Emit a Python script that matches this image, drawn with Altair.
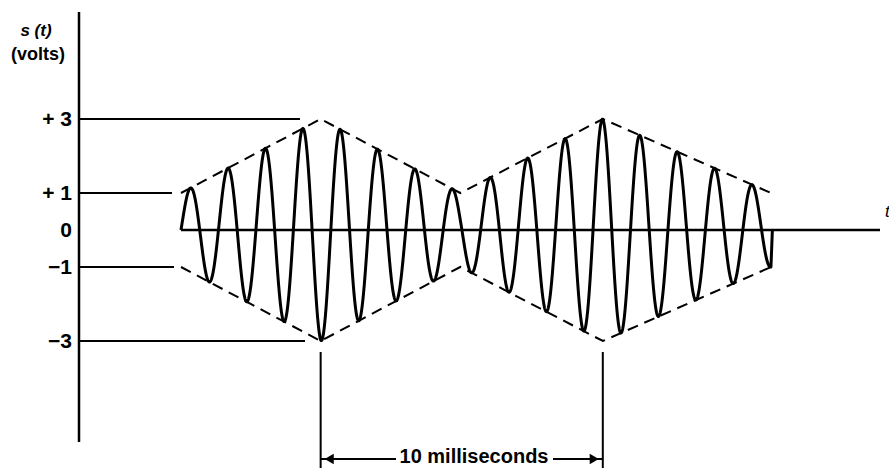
import altair as alt
import numpy as np
import pandas as pd

# Triangular envelope of the AM signal (time in ms, amplitude in volts)
env_t = [0.0, 4.9, 9.8, 14.8, 20.7]
env_a = [1.0, 3.0, 1.0, 3.0, 1.0]
# Carrier: the burst ends on the trough of its 16th cycle
carrier_cycles = 15.75

# Voltage levels marked on the vertical axis
levels = [3, 1, 0, -1, -3]
level_labels = ["+ 3", "+ 1", "0", "\u22121", "\u22123"]
# Envelope peaks spanned by the period annotation
span_ms = [4.9, 14.8]
span_label = "10 milliseconds"

# ---- layout (pixel frame: 889 x 470) ----
W, H = 889, 470
PX_PER_MS = 28.5
PX_PER_V = 37.0
X_ORIGIN = 181.0   # pixel x of t = 0
Y_ORIGIN = 230.0   # pixel y of s = 0
X_DOM = [-X_ORIGIN / PX_PER_MS, (W - X_ORIGIN) / PX_PER_MS]
Y_DOM = [-(H - Y_ORIGIN) / PX_PER_V, Y_ORIGIN / PX_PER_V]


def tx(px):
    return (px - X_ORIGIN) / PX_PER_MS


def vy(py):
    return (Y_ORIGIN - py) / PX_PER_V


xs = alt.Scale(domain=X_DOM, nice=False, zero=False)
ys = alt.Scale(domain=Y_DOM, nice=False, zero=False)
FONT = "Liberation Sans"

# Modulated waveform s(t) = a(t) sin(2 pi t / T)
t_end = env_t[-1]
period = t_end / carrier_cycles
t = np.linspace(0.0, t_end, 3000)
a = np.interp(t, env_t, env_a)
s = a * np.sin(2 * np.pi * t / period)
wave = pd.DataFrame({"t": np.append(t, t_end + 0.05), "s": np.append(s, 0.0)})

wave_line = alt.Chart(wave).mark_line(color="black", strokeWidth=3, strokeJoin="round").encode(
    x=alt.X("t:Q", scale=xs, axis=None),
    y=alt.Y("s:Q", scale=ys, axis=None),
    order="t:Q",
)

env_df = pd.DataFrame(
    {"t": env_t * 2, "s": env_a + [-v for v in env_a], "side": ["upper"] * 5 + ["lower"] * 5}
)
env_lines = alt.Chart(env_df).mark_line(
    color="black", strokeWidth=2, strokeDash=[11, 7]
).encode(
    x=alt.X("t:Q", scale=xs, axis=None),
    y=alt.Y("s:Q", scale=ys, axis=None),
    detail="side:N",
)

# Vertical axis and time axis
axis_x = tx(79)
axes_df = pd.DataFrame(
    {
        "x": [axis_x, 0.0],
        "x2": [axis_x, tx(880)],
        "y": [vy(12), 0.0],
        "y2": [vy(442), 0.0],
    }
)
axes = alt.Chart(axes_df).mark_rule(color="black", strokeWidth=2.5).encode(
    x=alt.X("x:Q", scale=xs, axis=None), x2="x2:Q",
    y=alt.Y("y:Q", scale=ys, axis=None), y2="y2:Q",
)

# Level lines running from the axis toward the envelope
lvl_end = {3: tx(300), 1: tx(172), -1: tx(174), -3: tx(305)}
lvl_df = pd.DataFrame(
    {"y": [v for v in levels if v != 0], "x": axis_x,
     "x2": [lvl_end[v] for v in levels if v != 0]}
)
lvl_lines = alt.Chart(lvl_df).mark_rule(color="black", strokeWidth=2).encode(
    x=alt.X("x:Q", scale=xs, axis=None), x2="x2:Q",
    y=alt.Y("y:Q", scale=ys, axis=None),
)

lbl_df = pd.DataFrame({"y": levels, "label": level_labels, "x": tx(72)})
lvl_text = alt.Chart(lbl_df).mark_text(
    align="right", baseline="middle", font=FONT, fontSize=21, fontWeight="bold", color="black",
    dy=1
).encode(
    x=alt.X("x:Q", scale=xs, axis=None),
    y=alt.Y("y:Q", scale=ys, axis=None),
    text="label:N",
)

# Axis titles
ylab1 = alt.Chart(pd.DataFrame({"x": [tx(36)], "y": [vy(31)], "label": ["s (t)"]})).mark_text(
    align="center", baseline="middle", font=FONT, fontSize=17, fontWeight="bold",
    fontStyle="italic", color="black"
).encode(x=alt.X("x:Q", scale=xs, axis=None), y=alt.Y("y:Q", scale=ys, axis=None), text="label:N")
ylab2 = alt.Chart(pd.DataFrame({"x": [tx(38)], "y": [vy(55)], "label": ["(volts)"]})).mark_text(
    align="center", baseline="middle", font=FONT, fontSize=18, fontWeight="bold", color="black"
).encode(x=alt.X("x:Q", scale=xs, axis=None), y=alt.Y("y:Q", scale=ys, axis=None), text="label:N")
tlab = alt.Chart(pd.DataFrame({"x": [tx(885)], "y": [vy(212)], "label": ["t"]})).mark_text(
    align="left", baseline="middle", font=FONT, fontSize=17, fontStyle="italic", color="black"
).encode(x=alt.X("x:Q", scale=xs, axis=None), y=alt.Y("y:Q", scale=ys, axis=None), text="label:N")

# Period annotation: drop lines, double arrow and label
arrow_y = vy(459)
label_x = tx(474)
drop_df = pd.DataFrame({"x": span_ms, "y": [vy(352), vy(352)], "y2": [vy(468), vy(468)]})
drops = alt.Chart(drop_df).mark_rule(color="black", strokeWidth=2).encode(
    x=alt.X("x:Q", scale=xs, axis=None),
    y=alt.Y("y:Q", scale=ys, axis=None), y2="y2:Q",
)
shaft_df = pd.DataFrame(
    {"x": [span_ms[0], tx(553)], "x2": [tx(396), span_ms[1]], "y": [arrow_y, arrow_y]}
)
shafts = alt.Chart(shaft_df).mark_rule(color="black", strokeWidth=2).encode(
    x=alt.X("x:Q", scale=xs, axis=None), x2="x2:Q",
    y=alt.Y("y:Q", scale=ys, axis=None),
)
head_df = pd.DataFrame(
    {"x": [span_ms[0] + 0.3, span_ms[1] - 0.3], "y": [arrow_y, arrow_y],
     "shape": ["triangle-left", "triangle-right"]}
)
heads = alt.Chart(head_df).mark_point(filled=True, color="black", opacity=1, size=110).encode(
    x=alt.X("x:Q", scale=xs, axis=None),
    y=alt.Y("y:Q", scale=ys, axis=None),
    shape=alt.Shape("shape:N", scale=None, legend=None),
)
span_text = alt.Chart(pd.DataFrame({"x": [label_x], "y": [arrow_y], "label": [span_label]})).mark_text(
    align="center", baseline="middle", font=FONT, fontSize=20, fontWeight="bold", color="black",
    dy=-2
).encode(x=alt.X("x:Q", scale=xs, axis=None), y=alt.Y("y:Q", scale=ys, axis=None), text="label:N")

chart = alt.layer(
    axes, lvl_lines, env_lines, wave_line, lvl_text, ylab1, ylab2, tlab,
    drops, shafts, heads, span_text,
).properties(
    width=W, height=H, padding=0, autosize=alt.AutoSizeParams(type="none"),
    background="white",
).configure_view(stroke=None)

chart.save("out.html", embed_options={"renderer": "svg", "actions": False})
